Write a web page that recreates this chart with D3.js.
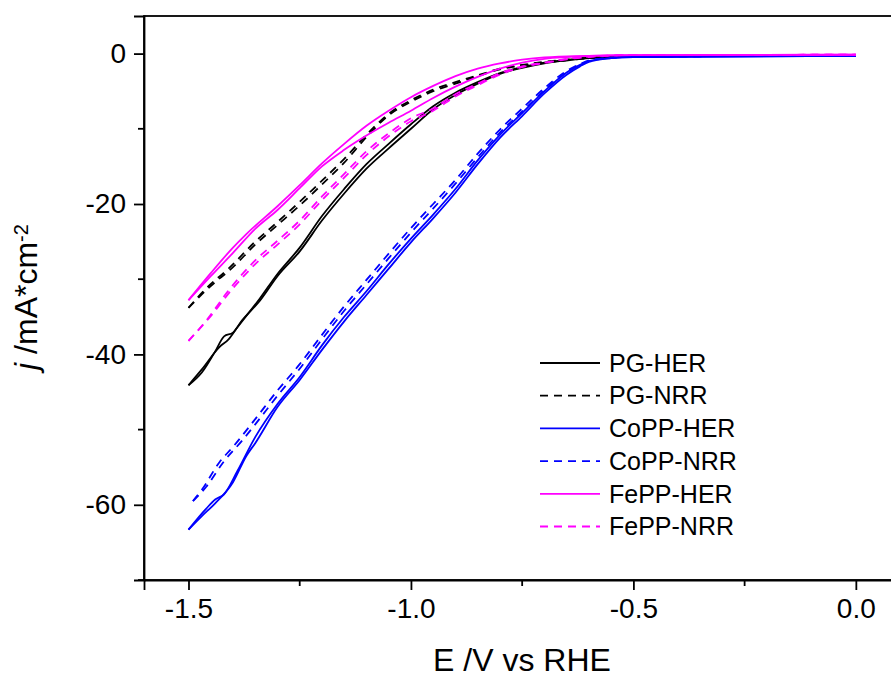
<!DOCTYPE html>
<html>
<head>
<meta charset="utf-8">
<script src="https://cdn.jsdelivr.net/npm/d3@7"></script>
<style>
  body { margin: 0; background: #fff; }
  svg { font-family: "Liberation Sans", Arial, sans-serif; }
  .axis path, .axis line { stroke: #000; stroke-width: 1.8; }
</style>
</head>
<body>
<div id="chart"></div>
<script>
// LSV curves, potential E (V vs RHE) and current density j (mA/cm2),
// each sample has a cathodic sweep (a) and a return sweep (b)
const pgHerA = [[-1.5,-44.1],[-1.47,-42.4],[-1.44,-39.6],[-1.42,-37.6],[-1.4,-37.1],[-1.38,-35.5],[-1.34,-32.9],[-1.3,-29.6],[-1.25,-26.3],[-1.2,-22.2],[-1.15,-18.6],[-1.1,-15.3],[-1.05,-12.6],[-1.0,-10.0],[-0.95,-7.4],[-0.9,-5.5],[-0.85,-4.0],[-0.8,-2.7],[-0.75,-1.9],[-0.7,-1.3],[-0.65,-0.9],[-0.6,-0.6],[-0.5,-0.35],[0,-0.25]];
const pgHerB = [[-1.5,-44.1],[-1.47,-42.0],[-1.43,-39.0],[-1.41,-38.0],[-1.39,-36.4],[-1.34,-32.6],[-1.3,-29.3],[-1.25,-25.8],[-1.2,-21.6],[-1.15,-18.0],[-1.1,-14.7],[-1.05,-12.0],[-1.0,-9.4],[-0.95,-7.0],[-0.9,-5.2],[-0.85,-3.8],[-0.8,-2.6],[-0.75,-1.8],[-0.7,-1.2],[-0.65,-0.85],[-0.6,-0.55],[-0.5,-0.35],[0,-0.25]];
const pgNrrA = [[-1.5,-33.8],[-1.45,-30.9],[-1.4,-28.4],[-1.35,-25.4],[-1.3,-22.8],[-1.25,-20.2],[-1.2,-17.4],[-1.15,-14.5],[-1.1,-11.1],[-1.05,-8.2],[-1.0,-6.4],[-0.95,-5.0],[-0.9,-4.0],[-0.85,-3.0],[-0.8,-2.1],[-0.75,-1.6],[-0.7,-1.2],[-0.65,-0.9],[-0.6,-0.6],[-0.5,-0.35],[0,-0.25]];
const pgNrrB = [[-1.5,-33.8],[-1.46,-31.2],[-1.41,-28.6],[-1.35,-25.0],[-1.3,-22.4],[-1.25,-19.7],[-1.2,-16.9],[-1.15,-14.0],[-1.1,-10.8],[-1.05,-8.0],[-1.0,-6.2],[-0.95,-4.8],[-0.9,-3.8],[-0.85,-2.9],[-0.8,-2.0],[-0.75,-1.5],[-0.7,-1.1],[-0.65,-0.8],[-0.6,-0.55],[-0.5,-0.35],[0,-0.25]];
const coppHerA = [[-1.5,-63.3],[-1.46,-60.5],[-1.44,-59.3],[-1.42,-58.6],[-1.39,-55.5],[-1.35,-51.0],[-1.3,-46.6],[-1.25,-43.0],[-1.2,-38.8],[-1.15,-35.0],[-1.1,-31.6],[-1.05,-28.0],[-1.0,-24.6],[-0.95,-21.4],[-0.9,-18.0],[-0.85,-14.2],[-0.8,-10.8],[-0.75,-7.9],[-0.7,-5.0],[-0.65,-2.5],[-0.62,-1.5],[-0.6,-1.0],[-0.55,-0.6],[-0.5,-0.45],[0,-0.3]];
const coppHerB = [[-1.5,-63.3],[-1.47,-61.5],[-1.44,-59.8],[-1.4,-57.0],[-1.37,-53.5],[-1.35,-51.8],[-1.3,-47.0],[-1.25,-43.4],[-1.2,-39.4],[-1.15,-35.6],[-1.1,-32.1],[-1.05,-28.6],[-1.0,-25.1],[-0.95,-21.9],[-0.9,-18.5],[-0.85,-14.7],[-0.8,-11.2],[-0.75,-8.3],[-0.7,-5.3],[-0.65,-2.8],[-0.62,-1.7],[-0.6,-1.1],[-0.55,-0.6],[-0.5,-0.45],[0,-0.3]];
const coppNrrA = [[-1.49,-59.5],[-1.47,-58.0],[-1.43,-54.3],[-1.4,-52.3],[-1.35,-48.6],[-1.3,-44.8],[-1.25,-41.3],[-1.2,-37.4],[-1.15,-33.6],[-1.1,-30.1],[-1.05,-26.6],[-1.0,-23.2],[-0.95,-20.0],[-0.9,-16.8],[-0.85,-13.3],[-0.8,-10.1],[-0.75,-7.3],[-0.7,-4.6],[-0.65,-2.3],[-0.62,-1.4],[-0.6,-0.9],[-0.55,-0.55],[-0.5,-0.4],[0,-0.3]];
const coppNrrB = [[-1.49,-59.5],[-1.46,-57.6],[-1.42,-54.2],[-1.38,-51.5],[-1.35,-49.3],[-1.3,-45.5],[-1.25,-41.9],[-1.2,-38.0],[-1.15,-34.2],[-1.1,-30.7],[-1.05,-27.2],[-1.0,-23.8],[-0.95,-20.6],[-0.9,-17.3],[-0.85,-13.8],[-0.8,-10.5],[-0.75,-7.7],[-0.7,-4.9],[-0.65,-2.5],[-0.62,-1.5],[-0.6,-1.0],[-0.55,-0.55],[-0.5,-0.4],[0,-0.3]];
const feppHerA = [[-1.5,-32.8],[-1.45,-29.2],[-1.4,-25.8],[-1.37,-24.0],[-1.3,-20.3],[-1.25,-17.5],[-1.2,-14.6],[-1.15,-12.0],[-1.1,-9.6],[-1.05,-7.6],[-1.0,-5.8],[-0.95,-4.3],[-0.9,-3.0],[-0.85,-2.0],[-0.8,-1.3],[-0.75,-0.8],[-0.7,-0.5],[-0.6,-0.3],[-0.5,-0.2],[0,-0.15]];
const feppHerB = [[-1.5,-32.8],[-1.45,-29.6],[-1.4,-26.5],[-1.35,-23.3],[-1.3,-20.8],[-1.25,-17.9],[-1.2,-15.0],[-1.15,-12.8],[-1.1,-10.9],[-1.05,-9.2],[-1.0,-7.6],[-0.95,-5.9],[-0.9,-4.4],[-0.85,-3.1],[-0.8,-2.0],[-0.75,-1.2],[-0.7,-0.7],[-0.65,-0.45],[-0.6,-0.3],[-0.5,-0.2],[0,-0.15]];
const feppNrrA = [[-1.5,-38.2],[-1.46,-35.5],[-1.41,-31.5],[-1.35,-27.5],[-1.3,-24.9],[-1.25,-22.2],[-1.2,-19.0],[-1.15,-16.0],[-1.1,-13.0],[-1.05,-10.6],[-1.0,-8.6],[-0.95,-7.3],[-0.9,-5.4],[-0.85,-4.0],[-0.8,-2.6],[-0.75,-1.7],[-0.7,-1.2],[-0.65,-0.7],[-0.6,-0.4],[-0.5,-0.2],[0,-0.15]];
const feppNrrB = [[-1.5,-38.2],[-1.45,-34.9],[-1.4,-31.2],[-1.35,-28.0],[-1.3,-25.4],[-1.25,-22.7],[-1.2,-19.5],[-1.15,-16.5],[-1.1,-13.5],[-1.05,-11.0],[-1.0,-9.0],[-0.95,-7.6],[-0.9,-5.7],[-0.85,-4.2],[-0.8,-2.8],[-0.75,-1.8],[-0.7,-1.25],[-0.65,-0.75],[-0.6,-0.45],[-0.5,-0.2],[0,-0.15]];

const seriesNames = ["PG-HER", "PG-NRR", "CoPP-HER", "CoPP-NRR", "FePP-HER", "FePP-NRR"];
const seriesColors = ["#000000", "#000000", "#0000ff", "#0000ff", "#ff00ff", "#ff00ff"];
const seriesDashed = [false, true, false, true, false, true];
const seriesSweeps = [[pgHerA, pgHerB], [pgNrrA, pgNrrB], [coppHerA, coppHerB], [coppNrrA, coppNrrB], [feppHerA, feppHerB], [feppNrrA, feppNrrB]];

const xTicks = [-1.5, -1.0, -0.5, 0.0];
const xMinor = [-1.25, -0.75, -0.25];
const yTicks = [0, -20, -40, -60];
const yMinor = [-10, -30, -50, -70];

const width = 891, height = 677;
const margin = {left: 144, top: 16, bottom: 97};

const x = d3.scaleLinear()
    .domain([-1.6, 0.1])
    .range([margin.left, margin.left + 1.7 * 444.9]);

const y = d3.scaleLinear()
    .domain([-70, 5])
    .range([height - margin.bottom, margin.top]);

const svg = d3.select("#chart").append("svg")
    .attr("width", width)
    .attr("height", height);

// frame (right side falls outside the picture)
svg.append("rect")
    .attr("x", x(-1.6))
    .attr("y", y(5))
    .attr("width", x(0.1) - x(-1.6))
    .attr("height", y(-70) - y(5))
    .attr("fill", "none")
    .attr("stroke", "#000")
    .attr("stroke-width", 1.8);

// plain hyphen for the minus sign, like the original
const xAxis = svg.append("g")
    .attr("class", "axis")
    .attr("transform", "translate(0," + y(-70) + ")")
    .call(d3.axisBottom(x).tickValues(xTicks).tickSize(10).tickPadding(8).tickFormat(d => d.toFixed(1)));
xAxis.selectAll("text").style("font-size", "28px").attr("fill", "#000");
xAxis.selectAll(".minor")
    .data(xMinor).enter().append("line")
    .attr("class", "minor")
    .attr("x1", d => x(d)).attr("x2", d => x(d))
    .attr("y1", 0).attr("y2", 6);

const yAxis = svg.append("g")
    .attr("class", "axis")
    .attr("transform", "translate(" + x(-1.6) + ",0)")
    .call(d3.axisLeft(y).tickValues(yTicks).tickSize(10).tickPadding(8).tickFormat(d => String(d)));
yAxis.selectAll("text").style("font-size", "28px").attr("fill", "#000");
yAxis.selectAll(".minor")
    .data(yMinor).enter().append("line")
    .attr("class", "minor")
    .attr("x1", 0).attr("x2", -6)
    .attr("y1", d => y(d)).attr("y2", d => y(d));

const line = d3.line()
    .x(d => x(d[0]))
    .y(d => y(d[1]))
    .curve(d3.curveMonotoneX);

seriesSweeps.forEach((sweeps, i) => {
  sweeps.forEach(sweep => {
    svg.append("path")
        .datum(sweep)
        .attr("d", line)
        .attr("fill", "none")
        .attr("stroke", seriesColors[i])
        .attr("stroke-width", 1.8)
        .attr("stroke-dasharray", seriesDashed[i] ? "8,6" : null);
  });
});

// legend
const legend = svg.append("g")
    .attr("transform", "translate(540,363)");

const row = legend.selectAll("g")
    .data(seriesNames)
  .enter().append("g")
    .attr("transform", (d, i) => "translate(0," + i * 32.7 + ")");

row.append("line")
    .attr("x1", 0).attr("x2", 60)
    .attr("stroke", (d, i) => seriesColors[i])
    .attr("stroke-width", 1.8)
    .attr("stroke-dasharray", (d, i) => seriesDashed[i] ? "8,6" : null);

row.append("text")
    .attr("x", 69)
    .attr("dy", "0.35em")
    .style("font-size", "25px")
    .text(d => d);

// axis titles
svg.append("text")
    .attr("x", 522)
    .attr("y", 671)
    .attr("text-anchor", "middle")
    .style("font-size", "32px")
    .text("E /V vs RHE");

const yTitle = svg.append("text")
    .attr("transform", "translate(37,297) rotate(-90)")
    .attr("text-anchor", "middle")
    .style("font-size", "32px");
yTitle.append("tspan").style("font-style", "italic").text("j");
yTitle.append("tspan").text(" /mA*cm");
yTitle.append("tspan").attr("dy", "-0.45em").style("font-size", "20px").text("-2");
</script>
</body>
</html>
